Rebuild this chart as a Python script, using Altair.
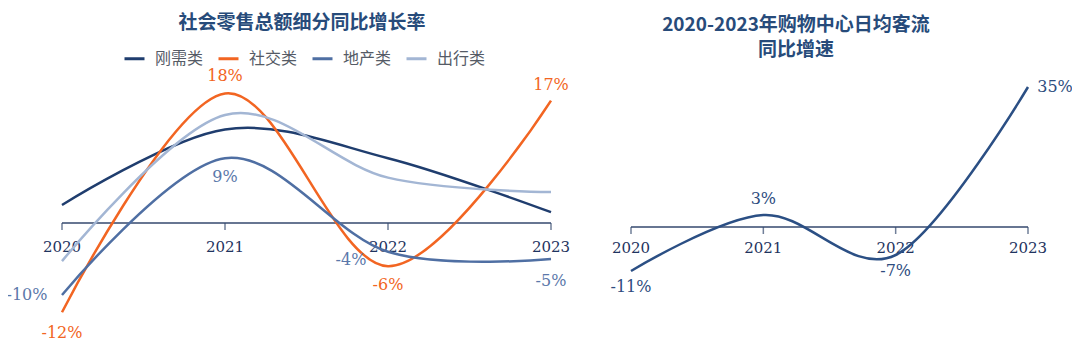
import altair as alt
import pandas as pd

# ---------------- data ----------------
years = [2020, 2021, 2022, 2023]
year_labels = ["2020", "2021", "2022", "2023"]
series_names = ["刚需类", "社交类", "地产类", "出行类"]
gangxu = [2.5, 13.0, 9.0, 1.5]
shejiao = [-12.4, 18.0, -6.0, 17.0]
dichan = [-10.0, 9.0, -4.0, -5.0]
chuxing = [-5.3, 15.0, 6.3, 4.3]
shejiao_labels = ["-12%", "18%", "-6%", "17%"]
dichan_labels = ["-10%", "9%", "-4%", "-5%"]

mall = [-11.0, 3.0, -7.0, 35.0]
mall_labels = ["-11%", "3%", "-7%", "35%"]

title_left = "社会零售总额细分同比增长率"
title_right_1 = "2020-2023年购物中心日均客流"
title_right_2 = "同比增速"

# ---------------- styles ----------------
series_colors = ["#1f3d6e", "#f26522", "#4f6fa3", "#a3b6d4"]
axis_color = "#34496e"
year_color = "#1f3460"
title_color = "#274b7a"
legend_color = "#555b66"
num_font = "DejaVu Serif"
cjk_font = "Noto Sans CJK SC"

TOP = 12  # top padding of the canvas

# label offsets (dx, dy) per point
shejiao_off = [(0, 21), (0, -17), (0, 19), (0, -16)]
dichan_off = [(-35, 0), (0, 19), (-37, 8), (0, 22)]
mall_off = [(0, 16), (0, -16), (0, 16), (27, 0)]

# scales (pixel ranges inside the canvas)
xl = alt.Scale(domain=[2020, 2023], range=[54, 543], nice=False, zero=False)
yl = alt.Scale(domain=[-15, 20], range=[323 - TOP, 71 - TOP], nice=False, zero=False)
xr = alt.Scale(domain=[2020, 2023], range=[623, 1020], nice=False, zero=False)
yr = alt.Scale(domain=[-15, 40], range=[279 - TOP, 59 - TOP], nice=False, zero=False)

# ---------------- tables ----------------
long_rows = []
for name, vals in zip(series_names, [gangxu, shejiao, dichan, chuxing]):
    for y, v in zip(years, vals):
        long_rows.append({"year": y, "series": name, "value": v})
left_df = pd.DataFrame(long_rows)
mall_df = pd.DataFrame({"year": years, "value": mall})
year_df = pd.DataFrame({"year": years, "label": year_labels, "zero": [0] * 4})
axis_df = pd.DataFrame({"start": [years[0]], "end": [years[-1]], "zero": [0]})


def axis_layers(xs, ys, dy_label):
    rule = alt.Chart(axis_df).mark_rule(color=axis_color, strokeWidth=1.5).encode(
        x=alt.X("start:Q", scale=xs, axis=None),
        x2="end:Q",
        y=alt.Y("zero:Q", scale=ys, axis=None),
    )
    ticks = alt.Chart(year_df).mark_tick(
        orient="vertical", size=7, thickness=1.5, color=axis_color, yOffset=3.5
    ).encode(
        x=alt.X("year:Q", scale=xs, axis=None),
        y=alt.Y("zero:Q", scale=ys, axis=None),
    )
    labels = alt.Chart(year_df).mark_text(
        font=num_font, fontSize=15, color=year_color, dy=dy_label, baseline="middle"
    ).encode(
        x=alt.X("year:Q", scale=xs, axis=None),
        y=alt.Y("zero:Q", scale=ys, axis=None),
        text="label:N",
    )
    return [rule, ticks, labels]


def point_labels(vals, texts, offs, color, xs, ys):
    layers = []
    for y, v, t, (dx, dy) in zip(years, vals, texts, offs):
        d = pd.DataFrame({"year": [y], "value": [v], "text": [t]})
        layers.append(
            alt.Chart(d).mark_text(
                font=num_font, fontSize=16, color=color, dx=dx, dy=dy,
                baseline="middle", align="center"
            ).encode(
                x=alt.X("year:Q", scale=xs, axis=None),
                y=alt.Y("value:Q", scale=ys, axis=None),
                text="text:N",
            )
        )
    return layers


left_lines = alt.Chart(left_df).mark_line(interpolate="cardinal", strokeWidth=2.5).encode(
    x=alt.X("year:Q", scale=xl, axis=None),
    y=alt.Y("value:Q", scale=yl, axis=None),
    color=alt.Color(
        "series:N",
        scale=alt.Scale(domain=series_names, range=series_colors),
        legend=alt.Legend(
            orient="none", legendX=115, legendY=39 - TOP, direction="horizontal", title=None,
            symbolType="stroke", symbolSize=400, symbolStrokeWidth=3,
            labelFont=cjk_font, labelFontSize=16, labelColor=legend_color,
            labelOffset=9, columnPadding=8, padding=0,
        ),
    ),
    detail="series:N",
)

left = alt.layer(
    *axis_layers(xl, yl, 24),
    left_lines,
    *point_labels(shejiao, shejiao_labels, shejiao_off, series_colors[1], xl, yl),
    *point_labels(dichan, dichan_labels, dichan_off, "#5b78aa", xl, yl),
)

right_line = alt.Chart(mall_df).mark_line(
    interpolate="cardinal", strokeWidth=2.5, color="#2b4f84"
).encode(
    x=alt.X("year:Q", scale=xr, axis=None),
    y=alt.Y("value:Q", scale=yr, axis=None),
)

right = alt.layer(
    *axis_layers(xr, yr, 21),
    right_line,
    *point_labels(mall, mall_labels, mall_off, "#2d4c7e", xr, yr),
)


def title_mark(text, x, y):
    return alt.Chart(pd.DataFrame({"t": [text]})).mark_text(
        font=cjk_font, fontSize=19, fontWeight="bold", color=title_color,
        align="center", baseline="middle"
    ).encode(x=alt.value(x), y=alt.value(y), text="t:N")


chart = alt.layer(
    left,
    right,
    title_mark(title_left, 294, 15 - TOP),
    title_mark(title_right_1, 788, 17 - TOP),
    title_mark(title_right_2, 788, 42 - TOP),
).resolve_scale(x="independent", y="independent", color="independent").properties(
    width=1064, height=340 - TOP, autosize=alt.AutoSizeParams(type="none"),
    padding={"top": TOP, "left": 0, "right": 0, "bottom": 0}
).configure_view(stroke=None)

chart.save("out.html", embed_options={"renderer": "svg", "actions": False})
